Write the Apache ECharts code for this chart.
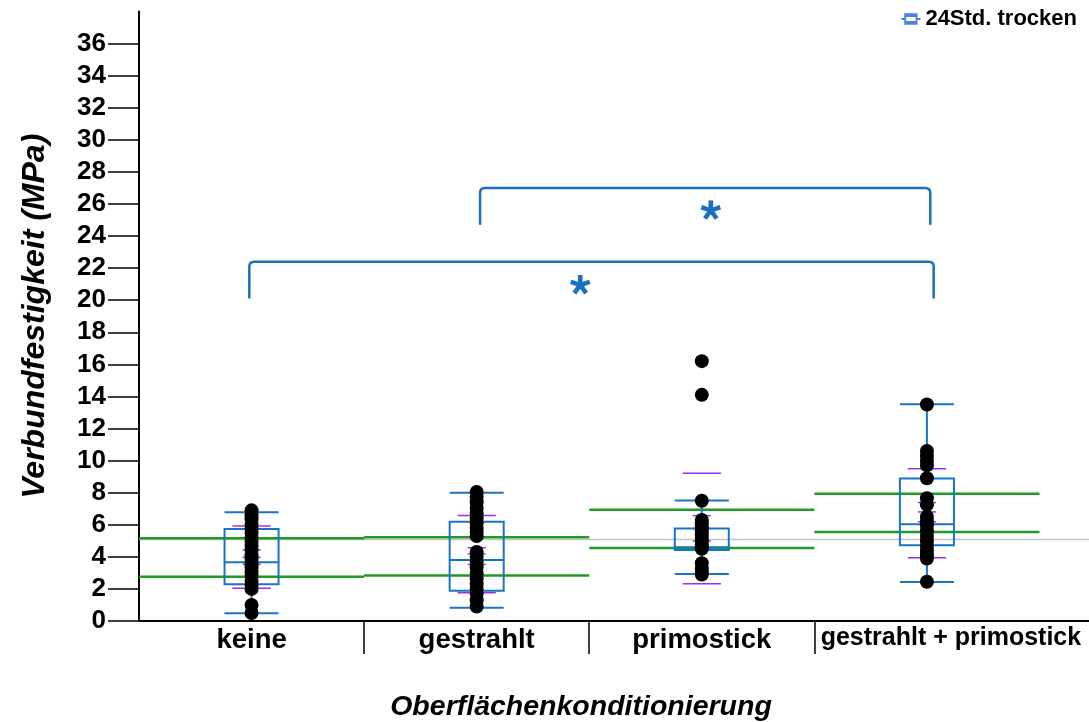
<!DOCTYPE html>
<html><head><meta charset="utf-8">
<script src="https://cdn.jsdelivr.net/npm/echarts@6/dist/echarts.min.js"></script>
<style>html,body{margin:0;padding:0;background:#fff}#c{width:1089px;height:722px}</style>
</head><body><div id="c"></div>
<script>
// ---- data ----
const categories = ['keine', 'gestrahlt', 'primostick', 'gestrahlt + primostick'];
const yTicks = [0,2,4,6,8,10,12,14,16,18,20,22,24,26,28,30,32,34,36];
// box statistics per category
const boxMin    = [0.48, 0.83, 2.93, 2.43];
const boxQ1     = [2.29, 1.89, 4.43, 4.72];
const boxMedian = [3.66, 3.80, 4.60, 6.03];
const boxQ3     = [5.74, 6.19, 5.76, 8.89];
const boxMax    = [6.78, 8.00, 7.52, 13.51];
// individual measurements
const pointsKeine = [6.9, 6.6, 6.35, 6.0, 5.75, 5.5, 5.2, 4.95, 4.7, 4.45, 4.1, 3.9, 3.6, 3.35, 3.05, 2.8, 2.5, 2.25, 2.0, 1.0, 0.5];
const pointsGestrahlt = [8.05, 7.75, 7.4, 7.05, 6.7, 6.4, 6.1, 5.8, 5.55, 5.3, 4.3, 4.0, 3.7, 3.35, 3.0, 2.65, 2.3, 2.0, 1.7, 1.3, 0.9];
const pointsPrimostick = [16.2, 14.1, 7.5, 6.3, 6.1, 5.85, 5.6, 5.4, 5.2, 5.0, 4.8, 4.6, 4.5, 3.6, 3.3, 3.05, 2.9];
const pointsBeide = [13.5, 10.6, 10.3, 10.0, 9.7, 8.9, 7.65, 7.25, 6.5, 6.2, 5.95, 5.6, 5.3, 5.0, 4.7, 4.4, 4.1, 3.9, 2.45];
// green reference lines per category
const greenUpper = [5.16, 5.22, 6.94, 7.94];
const greenLower = [2.76, 2.83, 4.55, 5.55];
const grandMean = 5.08;
// purple marks: mean ± SD (wide) and CI (short)
const sdUpper = [5.92, 6.57, 9.21, 9.50];
const sdLower = [2.04, 1.76, 2.33, 3.95];
const ciUpper = [4.43, 4.57, 6.57, 7.38];
const ciMean  = [3.97, 4.18, 5.77, 6.80];
const ciLower = [3.53, 3.53, 4.99, 6.19];
// significance brackets
const bracketFrom = [0.49, 1.515];
const bracketTo   = [3.53, 3.515];
const bracketTop  = [22.4, 27.0];
const bracketLeg  = [20.1, 24.7];
const starX = [1.96, 2.54];
const starY = [20.95, 25.6];

// ---- chart ----
const FONT = '"Liberation Sans", Arial, sans-serif';
const X_MAX = 4.22;
const BOX_COLOR = '#1a74c4';
const chart = echarts.init(document.getElementById('c'), null, {renderer: 'canvas'});

const allPoints = [pointsKeine, pointsGestrahlt, pointsPrimostick, pointsBeide];
const scatterData = [];
allPoints.forEach((arr, i) => arr.forEach(v => scatterData.push([i + 0.5, v])));

function hLine(api, x, v, frac, style) {
  const p = api.coord([x, v]);
  const h = api.size([frac, 0])[0] / 2;
  return {type: 'line', shape: {x1: p[0] - h, y1: p[1], x2: p[0] + h, y2: p[1]}, style: style};
}

const option = {
  animation: false,
  backgroundColor: '#fff',
  title: {
    text: 'Oberflächenkonditionierung', left: 576, top: 688, textAlign: 'center',
    textStyle: {fontFamily: FONT, fontSize: 28.5, fontWeight: 'bold', fontStyle: 'italic', color: '#000'}
  },
  legend: {
    right: 7, top: 3, itemWidth: 19, itemHeight: 13, itemGap: 5,
    data: [{name: '24Std. trocken',
      icon: 'path://M3 0H17V12H3Z M5 4V8H15V4Z M0 5H3V7H0Z M17 5H20V7H17Z',
      itemStyle: {color: '#4f7ee8'}}],
    textStyle: {fontFamily: FONT, fontSize: 22, fontWeight: 'bold', color: '#000'},
    selectedMode: false
  },
  grid: {left: 139, right: 0, top: 11.5, bottom: 101},
  xAxis: {
    type: 'value', min: 0, max: X_MAX,
    splitLine: {show: false},
    axisLine: {show: true, lineStyle: {color: '#000', width: 2}},
    axisTick: {show: true, customValues: [1, 2, 3], length: 33, lineStyle: {color: '#000', width: 1.5}},
    axisLabel: {
      customValues: [0.5, 1.5, 2.5, 3.5], margin: 5,
      formatter: v => { const i = Math.floor(v); return i === 3 ? '{b|' + categories[i] + '}' : '{a|' + categories[i] + '}'; },
      rich: {
        a: {fontFamily: FONT, fontSize: 27.5, fontWeight: 'bold', color: '#000'},
        b: {fontFamily: FONT, fontSize: 25, fontWeight: 'bold', color: '#000', padding: [0, 0, 0, 48]}
      }
    }
  },
  yAxis: {
    type: 'value', min: 0, max: 38, interval: 2,
    name: 'Verbundfestigkeit (MPa)', nameLocation: 'middle', nameGap: 88,
    nameTextStyle: {fontFamily: FONT, fontSize: 32, fontWeight: 'bold', fontStyle: 'italic', color: '#000'},
    splitLine: {show: false},
    axisLine: {show: true, lineStyle: {color: '#000', width: 2}},
    axisTick: {show: true, customValues: yTicks, length: 31, lineStyle: {color: '#000', width: 1.5}},
    axisLabel: {customValues: yTicks, margin: 33, fontFamily: FONT, fontSize: 26, fontWeight: 'bold', color: '#000'}
  },
  series: [
    { // grand mean gray line
      type: 'custom', silent: true, data: [[grandMean]],
      renderItem: (p, api) => {
        const a = api.coord([0, api.value(0)]), b = api.coord([X_MAX, api.value(0)]);
        return {type: 'line', shape: {x1: a[0], y1: a[1], x2: b[0], y2: b[1]}, style: {stroke: '#c4c4c4', lineWidth: 1.5}};
      }
    },
    { // green lines
      type: 'custom', silent: true,
      data: categories.map((c, i) => [i, greenUpper[i], greenLower[i]]),
      renderItem: (p, api) => {
        const i = api.value(0), st = {stroke: '#1f9a25', lineWidth: 2.5};
        const ch = [1, 2].map(k => {
          const a = api.coord([i, api.value(k)]), b = api.coord([i + 1, api.value(k)]);
          return {type: 'line', shape: {x1: a[0], y1: a[1], x2: b[0], y2: b[1]}, style: st};
        });
        return {type: 'group', children: ch};
      }
    },
    { // purple marks
      type: 'custom', silent: true,
      data: categories.map((c, i) => [i + 0.5, sdUpper[i], sdLower[i], ciUpper[i], ciMean[i], ciLower[i]]),
      renderItem: (p, api) => {
        const x = api.value(0), st = {stroke: '#9b2ff0', lineWidth: 1.5};
        return {type: 'group', children: [
          hLine(api, x, api.value(1), 0.17, st), hLine(api, x, api.value(2), 0.17, st),
          hLine(api, x, api.value(3), 0.08, st), hLine(api, x, api.value(4), 0.08, st), hLine(api, x, api.value(5), 0.08, st)
        ]};
      }
    },
    { // points
      type: 'scatter', silent: true, data: scatterData, symbol: 'circle', symbolSize: 14,
      itemStyle: {color: '#000', opacity: 1}
    },
    { // boxes
      name: '24Std. trocken', type: 'custom', silent: true,
      itemStyle: {color: BOX_COLOR},
      data: categories.map((c, i) => [i + 0.5, boxMin[i], boxQ1[i], boxMedian[i], boxQ3[i], boxMax[i]]),
      renderItem: (p, api) => {
        const x = api.value(0);
        const st = {stroke: BOX_COLOR, lineWidth: 2, fill: 'transparent'};
        const pm = api.coord([x, api.value(1)]), q1 = api.coord([x, api.value(2)]),
              md = api.coord([x, api.value(3)]), q3 = api.coord([x, api.value(4)]), px = api.coord([x, api.value(5)]);
        const half = api.size([0.24, 0])[0] / 2, cx = pm[0];
        return {type: 'group', children: [
          {type: 'line', shape: {x1: cx, y1: px[1], x2: cx, y2: q3[1]}, style: st},
          {type: 'line', shape: {x1: cx, y1: q1[1], x2: cx, y2: pm[1]}, style: st},
          {type: 'line', shape: {x1: cx - half, y1: px[1], x2: cx + half, y2: px[1]}, style: st},
          {type: 'line', shape: {x1: cx - half, y1: pm[1], x2: cx + half, y2: pm[1]}, style: st},
          {type: 'rect', shape: {x: cx - half, y: q3[1], width: 2 * half, height: q1[1] - q3[1]}, style: st},
          {type: 'line', shape: {x1: cx - half, y1: md[1], x2: cx + half, y2: md[1]}, style: st}
        ]};
      }
    },
    { // brackets
      type: 'custom', silent: true,
      data: bracketFrom.map((f, i) => [f, bracketTo[i], bracketTop[i], bracketLeg[i]]),
      renderItem: (p, api) => {
        const a = api.coord([api.value(0), api.value(3)]), at = api.coord([api.value(0), api.value(2)]);
        const b = api.coord([api.value(1), api.value(3)]);
        const r = 5, yt = at[1];
        const d = 'M' + a[0] + ' ' + a[1] + ' L' + a[0] + ' ' + (yt + r) + ' Q' + a[0] + ' ' + yt + ' ' + (a[0] + r) + ' ' + yt +
                  ' L' + (b[0] - r) + ' ' + yt + ' Q' + b[0] + ' ' + yt + ' ' + b[0] + ' ' + (yt + r) + ' L' + b[0] + ' ' + b[1];
        return {type: 'path', shape: {pathData: d}, style: {stroke: '#1c70bf', lineWidth: 2.5, fill: null}};
      }
    },
    { // stars
      type: 'custom', silent: true,
      data: starX.map((x, i) => [x, starY[i]]),
      renderItem: (p, api) => {
        const c = api.coord([api.value(0), api.value(1)]);
        const arms = [0, 1, 2, 3, 4].map(k => ({
          type: 'rect', x: c[0], y: c[1], rotation: -k * 2 * Math.PI / 5,
          shape: {x: -2.3, y: -10, width: 4.6, height: 10},
          style: {fill: '#1c70bf'}
        }));
        return {type: 'group', children: arms};
      }
    }
  ]
};
chart.setOption(option);
</script></body></html>
